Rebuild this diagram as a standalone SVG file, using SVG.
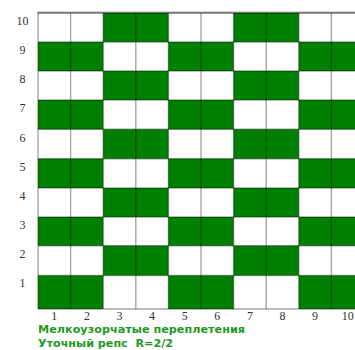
<svg xmlns="http://www.w3.org/2000/svg" width="355" height="350" viewBox="0 0 355 350">
<style>
.g{fill:#008000}
.ln{stroke:#000;stroke-opacity:0.35;stroke-width:1.4;fill:none}
.num{font-family:"Liberation Serif","Times New Roman",serif;font-size:12px;fill:#333;text-anchor:middle}
.cap{font-family:"DejaVu Sans",Verdana,sans-serif;font-weight:bold;font-size:11px;fill:#1f9a1f}
</style>
<rect width="355" height="350" fill="#fff"/>
<g id="cells">
<!-- row 10 (even) -->
<rect class="g" x="103.2" y="13" width="65.2" height="29"/><rect class="g" x="233.6" y="13" width="65.2" height="29"/>
<!-- row 9 (odd) -->
<rect class="g" x="38" y="42" width="65.2" height="29"/><rect class="g" x="168.4" y="42" width="65.2" height="29"/><rect class="g" x="298.8" y="42" width="65.2" height="29"/>
<!-- row 8 -->
<rect class="g" x="103.2" y="71" width="65.2" height="29"/><rect class="g" x="233.6" y="71" width="65.2" height="29"/>
<!-- row 7 -->
<rect class="g" x="38" y="100" width="65.2" height="29.3"/><rect class="g" x="168.4" y="100" width="65.2" height="29.3"/><rect class="g" x="298.8" y="100" width="65.2" height="29.3"/>
<!-- row 6 -->
<rect class="g" x="103.2" y="129.3" width="65.2" height="29.4"/><rect class="g" x="233.6" y="129.3" width="65.2" height="29.4"/>
<!-- row 5 -->
<rect class="g" x="38" y="158.7" width="65.2" height="29.3"/><rect class="g" x="168.4" y="158.7" width="65.2" height="29.3"/><rect class="g" x="298.8" y="158.7" width="65.2" height="29.3"/>
<!-- row 4 -->
<rect class="g" x="103.2" y="188" width="65.2" height="29"/><rect class="g" x="233.6" y="188" width="65.2" height="29"/>
<!-- row 3 -->
<rect class="g" x="38" y="217" width="65.2" height="28.7"/><rect class="g" x="168.4" y="217" width="65.2" height="28.7"/><rect class="g" x="298.8" y="217" width="65.2" height="28.7"/>
<!-- row 2 -->
<rect class="g" x="103.2" y="245.7" width="65.2" height="29.8"/><rect class="g" x="233.6" y="245.7" width="65.2" height="29.8"/>
<!-- row 1 -->
<rect class="g" x="38" y="275.5" width="65.2" height="33.5"/><rect class="g" x="168.4" y="275.5" width="65.2" height="33.5"/><rect class="g" x="298.8" y="275.5" width="65.2" height="33.5"/>
</g>
<g id="gridlines" class="ln">
<path d="M38 13V309M70.6 13V309M103.2 13V309M135.8 13V309M168.4 13V309M201 13V309M233.6 13V309M266.2 13V309M298.8 13V309M331.4 13V309"/>
<path d="M38 13H355M38 42H355M38 71H355M38 100H355M38 129.3H355M38 158.7H355M38 188H355M38 217H355M38 245.7H355M38 275.5H355M38 309H355"/>
<path d="M37 12.6H355" stroke-width="2"/>
</g>
<g id="row-labels" class="num">
<text x="22.5" y="25">10</text>
<text x="22.5" y="54">9</text>
<text x="22.5" y="83">8</text>
<text x="22.5" y="112">7</text>
<text x="22.5" y="141.5">6</text>
<text x="22.5" y="171">5</text>
<text x="22.5" y="200">4</text>
<text x="22.5" y="229">3</text>
<text x="22.5" y="258">2</text>
<text x="22.5" y="287">1</text>
</g>
<g id="col-labels" class="num">
<text x="54.3" y="320">1</text>
<text x="86.9" y="320">2</text>
<text x="119.5" y="320">3</text>
<text x="152.1" y="320">4</text>
<text x="184.7" y="320">5</text>
<text x="217.3" y="320">6</text>
<text x="249.9" y="320">7</text>
<text x="282.5" y="320">8</text>
<text x="315.1" y="320">9</text>
<text x="347.7" y="320">10</text>
</g>
<g id="caption" class="cap">
<text x="38" y="333" textLength="207" lengthAdjust="spacingAndGlyphs">Мелкоузорчатые переплетения</text>
<text x="38" y="347" textLength="135" lengthAdjust="spacingAndGlyphs" xml:space="preserve">Уточный репс  R=2/2</text>
</g>
</svg>
